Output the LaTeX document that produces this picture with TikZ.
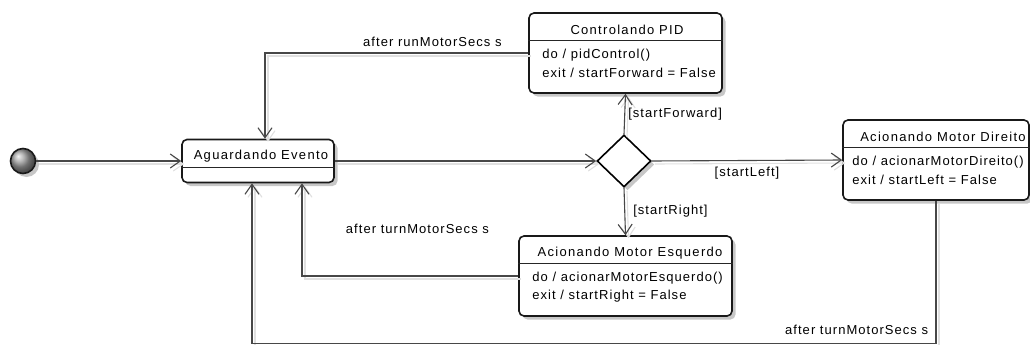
\documentclass[tikz,border=0pt]{standalone}
\usepackage{fontspec}
\setmainfont{Liberation Sans}[LetterSpace=8]
\newfontfamily\titlefont{Liberation Sans}[LetterSpace=10]
\usetikzlibrary{arrows.meta,shapes.geometric,shadows}

\tikzset{
  boxshadow/.style={drop shadow={shadow xshift=3.5pt, shadow yshift=-3.5pt, fill=black!22, opacity=1}},
  state/.style={draw=black!90, line width=1.6pt, rounded corners=5pt, fill=white, inner sep=0pt, boxshadow},
  initial/.style={circle, minimum size=25pt, draw=black!90, line width=1.6pt, inner sep=0pt,
    shading=ball, ball color=gray!75, boxshadow},
  choice/.style={diamond, draw=black, line width=1.6pt, minimum width=54pt, minimum height=52pt,
    inner sep=0pt, fill=white, boxshadow},
  sepline/.style={draw=black!85, line width=1pt},
  txt/.style={font=\fontsize{13}{15}\selectfont, inner sep=0pt, text=black},
  ttl/.style={font=\titlefont\fontsize{13}{15}\selectfont, inner sep=0pt, text=black},
  conn/.style={draw=black!72, line width=1.1pt,
    preaction={draw=black!12, line width=1.1pt, transform canvas={shift={(3pt,-3pt)}}}},
  arr/.style={-{Straight Barb[length=10pt,width=14pt]}},
}

\begin{document}
\begin{tikzpicture}[x=1pt,y=-1pt]
\useasboundingbox (0,0) rectangle (1030,345);
\clip (0,0) rectangle (1030,345);

% initial pseudo-state
\node[initial] (start) at (23,161) {};

% states
\node[state, minimum width=152pt, minimum height=43pt] (agu) at (258,161) {};
\node[ttl] (aguT) at (261,156.5) {Aguardando Evento};
\draw[sepline] ([yshift=-28.5pt]agu.north west) -- ([yshift=-28.5pt]agu.north east);

\node[state, minimum width=193pt, minimum height=80pt] (pid) at (625.5,53) {};
\node[ttl] (pidT) at (627,29.5) {Controlando PID};
\draw[sepline] ([yshift=-28.5pt]pid.north west) -- ([yshift=-28.5pt]pid.north east);
\node[txt, anchor=west] (pidDo) at ([xshift=14pt,yshift=-43pt]pid.north west) {do / pidControl()};
\node[txt, anchor=west] (pidEx) at ([xshift=14pt,yshift=-61pt]pid.north west) {exit / startForward = False};

\node[state, minimum width=186pt, minimum height=80pt] (dir) at (936,160) {};
\node[ttl] (dirT) at (943,137) {Acionando Motor Direito};
\draw[sepline] ([yshift=-28.5pt]dir.north west) -- ([yshift=-28.5pt]dir.north east);
\node[txt, anchor=west] (dirDo) at ([xshift=10pt,yshift=-43pt]dir.north west) {do / acionarMotorDireito()};
\node[txt, anchor=west] (dirEx) at ([xshift=10pt,yshift=-61pt]dir.north west) {exit / startLeft = False};

\node[state, minimum width=213pt, minimum height=80pt] (esq) at (625.5,276) {};
\node[ttl] (esqT) at (630,253) {Acionando Motor Esquerdo};
\draw[sepline] ([yshift=-28.5pt]esq.north west) -- ([yshift=-28.5pt]esq.north east);
\node[txt, anchor=west] (esqDo) at ([xshift=14pt,yshift=-43pt]esq.north west) {do / acionarMotorEsquerdo()};
\node[txt, anchor=west] (esqEx) at ([xshift=14pt,yshift=-61pt]esq.north west) {exit / startRight = False};

% decision
\node[choice] (dec) at (624,161) {};

% transitions
\draw[conn,arr] (start) -- (agu.west);
\draw[conn,arr] (agu.east) -- (dec.west);
\draw[conn,arr] (dec.north) -- node[txt, anchor=west, xshift=3pt] {[startForward]} (pid.south);
\draw[conn,arr] (dec.south) -- node[txt, anchor=west, xshift=8pt] {[startRight]} (esq.north);
\draw[conn,arr] (dec.east) -- node[txt, anchor=north, yshift=-6pt] {[startLeft]} (dir.west);

\draw[conn,arr] (pid.west) -| node[txt, pos=0.182, anchor=base, yshift=6pt] {after runMotorSecs s} ([xshift=7pt]agu.north);
\draw[conn,arr] (esq.west) -| node[txt, pos=0.233, anchor=base, yshift=43pt] {after turnMotorSecs s} ([xshift=44pt]agu.south);

\coordinate (loopR) at (dir.south |- 0,343.5);
\draw[conn,arr] (dir.south) -- (loopR) -| node[txt, pos=0.058, anchor=base, yshift=9.5pt] {after turnMotorSecs s} ([xshift=-6pt]agu.south);
\end{tikzpicture}
\end{document}
